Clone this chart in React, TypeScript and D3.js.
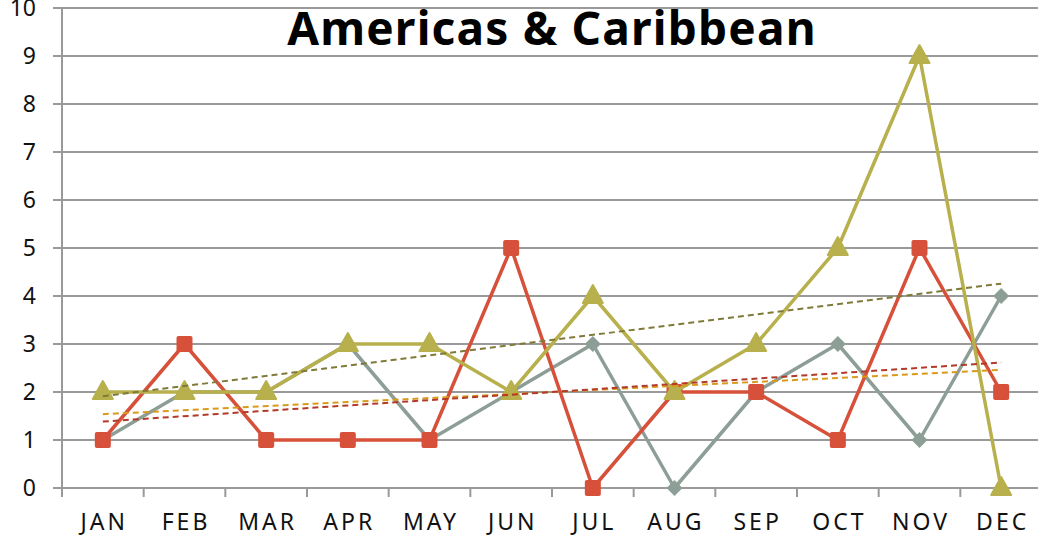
import React, { useEffect, useRef } from "react";
import * as d3 from "d3";

const months = ["JAN", "FEB", "MAR", "APR", "MAY", "JUN", "JUL", "AUG", "SEP", "OCT", "NOV", "DEC"];
const graySeries = [1, 2, 2, 3, 1, 2, 3, 0, 2, 3, 1, 4];
const redSeries = [1, 3, 1, 1, 1, 5, 0, 2, 2, 1, 5, 2];
const oliveSeries = [2, 2, 2, 3, 3, 2, 4, 2, 3, 5, 9, 0];
const yTicks = [0, 1, 2, 3, 4, 5, 6, 7, 8, 9, 10];

const FONT = "'Century Gothic', 'URW Gothic', 'Noto Sans', sans-serif";

// least squares fit, like the spreadsheet trendline
function trend(values: number[]) {
  const xs = values.map((_, i) => i + 1);
  const mx = d3.mean(xs) as number;
  const my = d3.mean(values) as number;
  let num = 0;
  let den = 0;
  xs.forEach((x, i) => {
    num += (x - mx) * (values[i] - my);
    den += (x - mx) * (x - mx);
  });
  const slope = num / den;
  return [1, xs.length].map((x) => ({ i: x - 1, v: my + slope * (x - mx) }));
}

const App = () => {
  const svgRef = useRef<SVGSVGElement>(null);

  useEffect(() => {
    const svg = d3.select(svgRef.current);
    svg.selectAll("*").remove();

    const margin = { top: 8, left: 62 };
    const plotH = 480;
    const plotW = 980;

    const x = d3.scaleBand().domain(months).range([margin.left, margin.left + plotW]);
    const cx = (i: number) => (x(months[i]) as number) + x.bandwidth() / 2;
    const y = d3.scaleLinear().domain([0, 10]).range([margin.top + plotH, margin.top]);

    // gridlines
    svg
      .append("g")
      .selectAll("line")
      .data(yTicks)
      .join("line")
      .attr("x1", margin.left - 9)
      .attr("x2", 1038)
      .attr("y1", (d) => y(d))
      .attr("y2", (d) => y(d))
      .attr("stroke", "#9a9a9a")
      .attr("stroke-width", 2);

    // y axis line
    svg
      .append("line")
      .attr("x1", margin.left)
      .attr("x2", margin.left)
      .attr("y1", y(10))
      .attr("y2", y(0) + 9)
      .attr("stroke", "#9a9a9a")
      .attr("stroke-width", 2);

    // x ticks between categories
    svg
      .append("g")
      .selectAll("line")
      .data(months.slice(1))
      .join("line")
      .attr("x1", (d) => x(d) as number)
      .attr("x2", (d) => x(d) as number)
      .attr("y1", y(0))
      .attr("y2", y(0) + 9)
      .attr("stroke", "#9a9a9a")
      .attr("stroke-width", 2);

    // y labels
    svg
      .append("g")
      .selectAll("text")
      .data(yTicks)
      .join("text")
      .attr("x", 36)
      .attr("y", (d) => y(d))
      .attr("dy", "0.36em")
      .attr("text-anchor", "end")
      .attr("font-family", FONT)
      .attr("font-size", 23)
      .attr("fill", "#111")
      .text((d) => d);

    // x labels
    svg
      .append("g")
      .selectAll("text")
      .data(months)
      .join("text")
      .attr("x", (_, i) => cx(i) + 1.5)
      .attr("y", 530)
      .attr("text-anchor", "middle")
      .attr("font-family", FONT)
      .attr("font-size", 23)
      .attr("letter-spacing", 3)
      .attr("fill", "#111")
      .text((d) => d);

    const line = d3
      .line<number>()
      .x((_, i) => cx(i))
      .y((d) => y(d));

    const series = [
      { values: graySeries, color: "#8d9e96", symbol: "diamond" },
      { values: redSeries, color: "#d6503a", symbol: "square" },
      { values: oliveSeries, color: "#b7b04c", symbol: "triangle" },
    ];

    series.forEach((s) => {
      svg
        .append("path")
        .datum(s.values)
        .attr("fill", "none")
        .attr("stroke", s.color)
        .attr("stroke-width", 3.5)
        .attr("stroke-linejoin", "round")
        .attr("d", line);

      const g = svg.append("g").attr("fill", s.color);
      s.values.forEach((v, i) => {
        const px = cx(i);
        const py = y(v);
        if (s.symbol === "square") {
          g.append("rect")
            .attr("x", px - 8)
            .attr("y", py - 8)
            .attr("width", 16)
            .attr("height", 16)
            .attr("rx", 2);
        } else if (s.symbol === "diamond") {
          g.append("path").attr("d", `M${px},${py - 8}L${px + 8},${py}L${px},${py + 8}L${px - 8},${py}Z`);
        } else {
          g.append("path")
            .attr("d", `M${px},${py - 11}L${px + 10},${py + 7}L${px - 10},${py + 7}Z`)
            .attr("stroke", s.color)
            .attr("stroke-width", 2)
            .attr("stroke-linejoin", "round");
        }
      });
    });

    // trendlines
    const trendLine = d3
      .line<{ i: number; v: number }>()
      .x((d) => cx(d.i))
      .y((d) => y(d.v));
    const trends = [
      { values: graySeries, color: "#d99a1c" },
      { values: redSeries, color: "#b23a28" },
      { values: oliveSeries, color: "#7f7a38" },
    ];
    trends.forEach((t) => {
      svg
        .append("path")
        .datum(trend(t.values))
        .attr("fill", "none")
        .attr("stroke", t.color)
        .attr("stroke-width", 2)
        .attr("stroke-dasharray", "6,4")
        .attr("d", trendLine);
    });

    // title
    svg
      .append("text")
      .attr("x", 552)
      .attr("y", 45)
      .attr("text-anchor", "middle")
      .attr("font-family", FONT)
      .attr("font-weight", "bold")
      .attr("font-size", 46)
      .attr("letter-spacing", 1.2)
      .attr("fill", "#000")
      .text("Americas & Caribbean");
  }, []);

  return (
    <svg
      ref={svgRef}
      width={1038}
      height={538}
      style={{ position: "absolute", left: 0, top: 0, background: "#fff" }}
    ></svg>
  );
};

export default App;
